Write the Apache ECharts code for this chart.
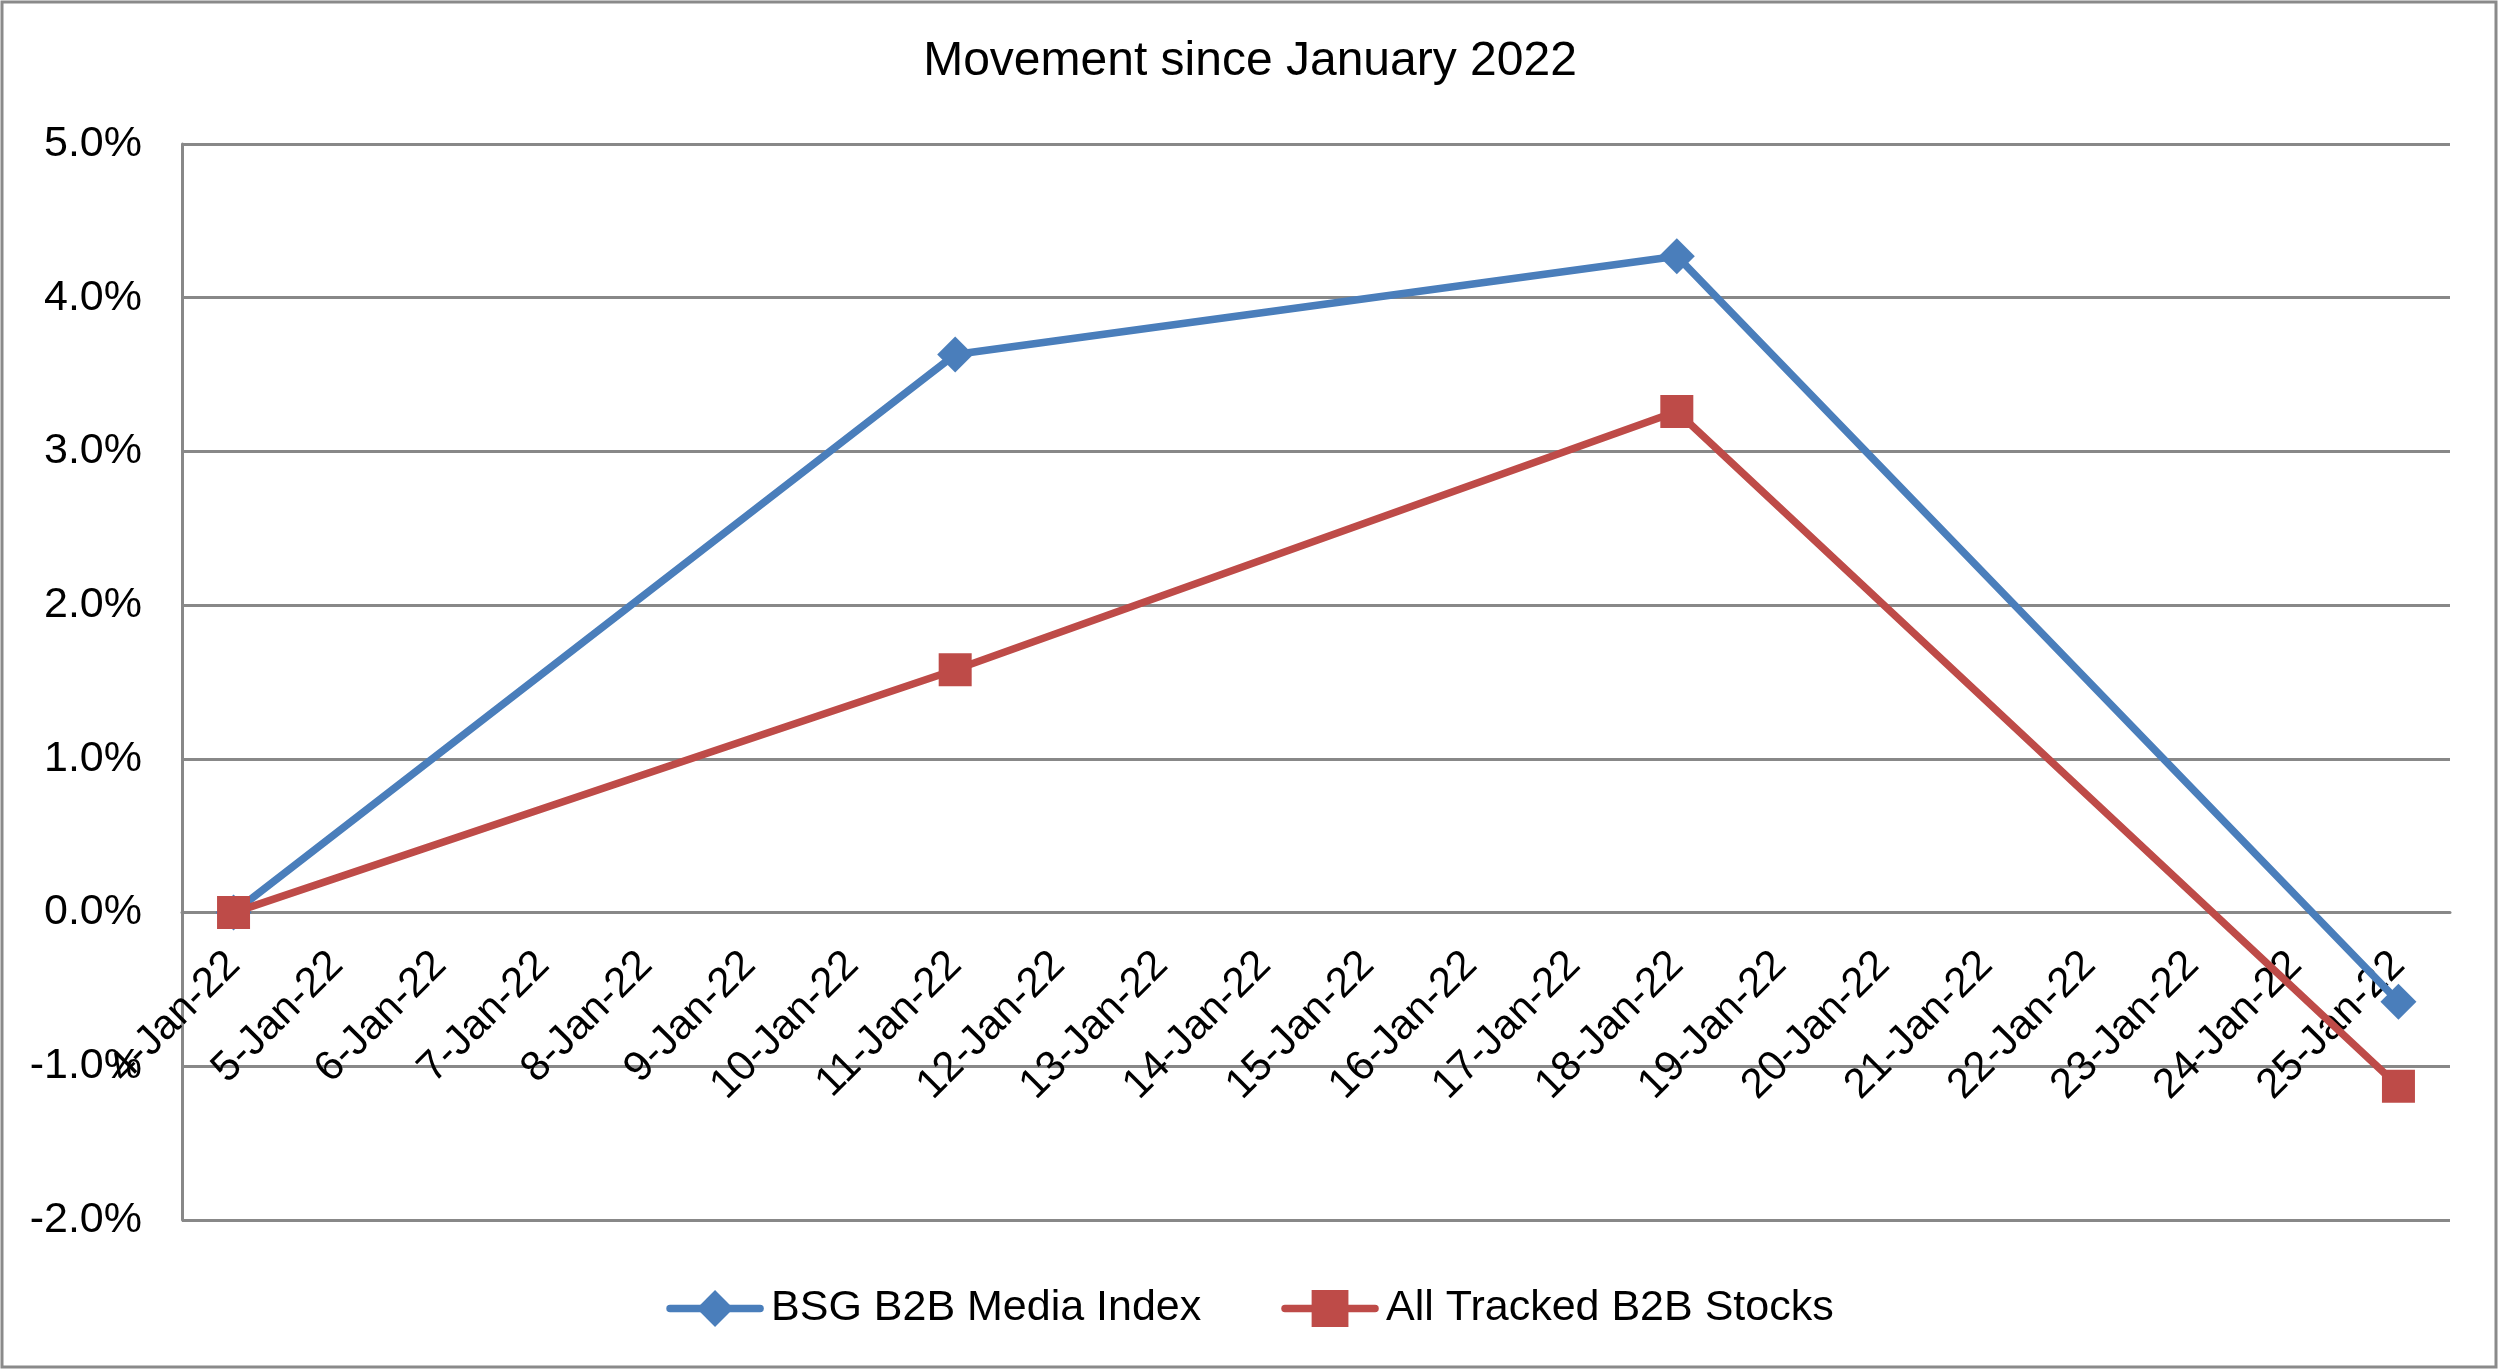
<!DOCTYPE html>
<html>
<head>
<meta charset="utf-8">
<script src="https://cdn.jsdelivr.net/npm/echarts@6/dist/echarts.min.js"></script>
<style>
html,body{margin:0;padding:0;background:#fff;}
#chart{width:2500px;height:1371px;}
</style>
</head>
<body>
<div id="chart"></div>
<script>
var titleText = 'Movement since January 2022';
var dates = ['4-Jan-22','5-Jan-22','6-Jan-22','7-Jan-22','8-Jan-22','9-Jan-22','10-Jan-22',
  '11-Jan-22','12-Jan-22','13-Jan-22','14-Jan-22','15-Jan-22','16-Jan-22','17-Jan-22',
  '18-Jan-22','19-Jan-22','20-Jan-22','21-Jan-22','22-Jan-22','23-Jan-22','24-Jan-22','25-Jan-22'];
var seriesNames = ['BSG B2B Media Index', 'All Tracked B2B Stocks'];
// values in percent; null = no observation that day
var bsgIndex = [0, null, null, null, null, null, null, 3.63, null, null, null, null, null, null, 4.27, null, null, null, null, null, null, -0.58];
var allStocks = [0, null, null, null, null, null, null, 1.58, null, null, null, null, null, null, 3.26, null, null, null, null, null, null, -1.13];
var yMin = -2, yMax = 5, yStep = 1;

var gridTop = 144, gridBottom = 151, chartH = 1371;
var plotH = chartH - gridTop - gridBottom;
// move the category axis up to the zero line (Excel "axis crosses at 0")
var zeroOffset = -plotH * (0 - yMin) / (yMax - yMin);

var chart = echarts.init(document.getElementById('chart'), null, {renderer: 'canvas'});
var font = 'Liberation Sans, Arial, sans-serif';
var gridColor = '#888888';
chart.setOption({
  backgroundColor: '#ffffff',
  animation: false,
  title: {
    text: titleText,
    left: 'center',
    top: 38,
    padding: 0,
    textStyle: {fontFamily: font, fontSize: 48, fontWeight: 'normal', color: '#000'}
  },
  graphic: [{
    type: 'rect',
    shape: {x: 2, y: 2, width: 2494, height: 1365},
    style: {fill: 'none', stroke: '#8a8a8a', lineWidth: 3},
    silent: true, z: 100
  }],
  legend: {
    bottom: 36,
    left: 'center',
    itemWidth: 90,
    itemHeight: 46,
    itemGap: 80,
    lineStyle: {width: 7.5, cap: 'round'},
    textStyle: {fontFamily: font, fontSize: 43, color: '#000', padding: [0, 0, 0, 6]},
    data: seriesNames
  },
  grid: {left: 182, right: 50, top: gridTop, bottom: gridBottom, containLabel: false, outerBoundsMode: 'none'},
  xAxis: {
    type: 'category',
    data: dates,
    boundaryGap: true,
    position: 'bottom',
    offset: zeroOffset,
    axisLine: {onZero: false, lineStyle: {color: gridColor, width: 3}},
    axisTick: {show: false},
    axisLabel: {
      interval: 0,
      rotate: 45,
      margin: 46,
      fontFamily: font,
      fontSize: 42,
      color: '#000',
      hideOverlap: false
    },
    splitLine: {show: false}
  },
  yAxis: {
    type: 'value',
    min: yMin,
    max: yMax,
    interval: yStep,
    axisLine: {show: true, lineStyle: {color: gridColor, width: 3}},
    axisTick: {show: false},
    axisLabel: {
      margin: 40,
      fontFamily: font,
      fontSize: 43,
      color: '#000',
      formatter: function (v) { return v.toFixed(1) + '%'; }
    },
    splitLine: {show: true, lineStyle: {color: gridColor, width: 3}}
  },
  series: [
    {
      name: seriesNames[0],
      type: 'line',
      data: bsgIndex,
      connectNulls: true,
      symbol: 'diamond',
      symbolSize: 36,
      showAllSymbol: true,
      color: '#4A7EBB',
      lineStyle: {color: '#4A7EBB', width: 7.5},
      itemStyle: {color: '#4A7EBB'},
      z: 3
    },
    {
      name: seriesNames[1],
      type: 'line',
      data: allStocks,
      connectNulls: true,
      symbol: 'rect',
      symbolSize: 33,
      showAllSymbol: true,
      color: '#BE4B48',
      lineStyle: {color: '#BE4B48', width: 7.5},
      itemStyle: {color: '#BE4B48'},
      z: 4
    }
  ]
});
</script>
</body>
</html>
